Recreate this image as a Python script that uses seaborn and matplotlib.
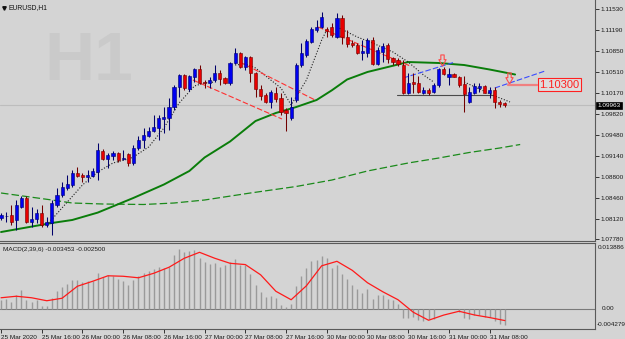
import numpy as np
import matplotlib
matplotlib.use("Agg")
import matplotlib.pyplot as plt
from matplotlib.path import Path
from matplotlib.transforms import blended_transform_factory
import seaborn as sns

# EURUSD H1 candles, 25 Mar 08:00 -> 31 Mar 11:00
opens = [
    1.08129, 1.08162, 1.08178, 1.08097, 1.08308, 1.08455, 1.08064, 1.08113, 1.08210, 1.08015,
    1.08048, 1.08341, 1.08503, 1.08617, 1.08666, 1.08861, 1.08829, 1.08796, 1.08812, 1.08878,
    1.09219, 1.09089, 1.09138, 1.09187, 1.09089, 1.09170, 1.09024, 1.09268, 1.09398, 1.09463,
    1.09545, 1.09593, 1.09740, 1.09756, 1.09935, 1.10260, 1.10456, 1.10228, 1.10423, 1.10553,
    1.10342, 1.10326, 1.10374, 1.10488, 1.10407, 1.10326, 1.10651, 1.10814, 1.10586, 1.10749,
    1.10488, 1.10228, 1.10130, 1.10017, 1.10163, 1.10082, 1.09886, 1.09756, 1.10049, 1.10618,
    1.10781, 1.10993, 1.11188, 1.11237, 1.11204, 1.11237, 1.11074, 1.11383, 1.11074, 1.10976,
    1.10944, 1.10814, 1.10814, 1.11025, 1.10635, 1.10830, 1.10944, 1.10732, 1.10700, 1.10618,
    1.10163, 1.10342, 1.10326, 1.10163, 1.10212, 1.10179, 1.10293, 1.10553, 1.10423, 1.10472,
    1.10423, 1.10309, 1.10017, 1.10163, 1.10244, 1.10277, 1.10163, 1.10212, 1.10017, 1.10000,
]
highs = [
    1.08210, 1.08227, 1.08341, 1.08422, 1.08487, 1.08487, 1.08308, 1.08276, 1.08341, 1.08145,
    1.08422, 1.08617, 1.08715, 1.08829, 1.08910, 1.08959, 1.08861, 1.08910, 1.08943, 1.09349,
    1.09252, 1.09187, 1.09219, 1.09203, 1.09236, 1.09187, 1.09317, 1.09463, 1.09593, 1.09610,
    1.09805, 1.09805, 1.09935, 1.10082, 1.10293, 1.10472, 1.10472, 1.10456, 1.10570, 1.10618,
    1.10374, 1.10423, 1.10618, 1.10537, 1.10423, 1.10667, 1.10895, 1.10830, 1.10765, 1.10765,
    1.10505, 1.10293, 1.10163, 1.10212, 1.10260, 1.10163, 1.09919, 1.10098, 1.10651, 1.10976,
    1.11041, 1.11237, 1.11351, 1.11481, 1.11237, 1.11302, 1.11464, 1.11432, 1.11188, 1.11025,
    1.10976, 1.11025, 1.11058, 1.11074, 1.10911, 1.10976, 1.10976, 1.10749, 1.10732, 1.10700,
    1.10488, 1.10488, 1.10439, 1.10260, 1.10244, 1.10326, 1.10570, 1.10586, 1.10570, 1.10488,
    1.10439, 1.10439, 1.10260, 1.10326, 1.10326, 1.10293, 1.10260, 1.10260, 1.10049, 1.10017,
]
lows = [
    1.08097, 1.08064, 1.08015, 1.07934, 1.08292, 1.08048, 1.07983, 1.08048, 1.07983, 1.07983,
    1.07853, 1.08308, 1.08471, 1.08585, 1.08633, 1.08796, 1.08715, 1.08715, 1.08796, 1.08747,
    1.09073, 1.08943, 1.09073, 1.09040, 1.09073, 1.08975, 1.08991, 1.09236, 1.09268, 1.09447,
    1.09528, 1.09398, 1.09512, 1.09561, 1.09886, 1.10098, 1.10212, 1.10195, 1.10342, 1.10309,
    1.10244, 1.10244, 1.10342, 1.10293, 1.10309, 1.10293, 1.10635, 1.10570, 1.10537, 1.10342,
    1.10098, 1.10049, 1.10000, 1.09919, 1.10017, 1.09805, 1.09545, 1.09724, 1.10017, 1.10586,
    1.10749, 1.10976, 1.11155, 1.11220, 1.11074, 1.11074, 1.11058, 1.10960, 1.10911, 1.10911,
    1.10797, 1.10700, 1.10749, 1.10618, 1.10618, 1.10667, 1.10651, 1.10618, 1.10602, 1.10147,
    1.10147, 1.10163, 1.10163, 1.10147, 1.10130, 1.10163, 1.10260, 1.10456, 1.10293, 1.10423,
    1.10260, 1.09854, 1.10000, 1.10147, 1.10179, 1.10163, 1.10082, 1.09919, 1.09935, 1.09935,
]
closes = [
    1.08178, 1.08162, 1.08064, 1.08341, 1.08455, 1.08064, 1.08113, 1.08210, 1.08015, 1.08064,
    1.08373, 1.08503, 1.08633, 1.08682, 1.08861, 1.08812, 1.08796, 1.08829, 1.08894, 1.09236,
    1.09089, 1.09154, 1.09187, 1.09073, 1.09105, 1.09024, 1.09268, 1.09398, 1.09480, 1.09545,
    1.09610, 1.09756, 1.09772, 1.09935, 1.10260, 1.10456, 1.10244, 1.10439, 1.10553, 1.10326,
    1.10326, 1.10374, 1.10488, 1.10391, 1.10326, 1.10651, 1.10814, 1.10586, 1.10749, 1.10488,
    1.10228, 1.10114, 1.10017, 1.10179, 1.10065, 1.09854, 1.09838, 1.09935, 1.10618, 1.10814,
    1.11009, 1.11204, 1.11237, 1.11399, 1.11172, 1.11107, 1.11383, 1.11074, 1.10960, 1.10944,
    1.10814, 1.10846, 1.11025, 1.10635, 1.10862, 1.10928, 1.10716, 1.10667, 1.10635, 1.10163,
    1.10326, 1.10309, 1.10179, 1.10212, 1.10163, 1.10293, 1.10553, 1.10472, 1.10472, 1.10423,
    1.10293, 1.10147, 1.10179, 1.10277, 1.10277, 1.10163, 1.10212, 1.10017, 1.09984, 1.09963,
]

# moving averages (sampled along the line, bar index -> price)
ma_idx = [0, 10, 14, 19, 26, 32, 37, 40, 45, 50, 54, 58, 62, 65, 68, 72, 76, 80, 86, 91, 96, 101]
ma_val = [1.07901, 1.08048, 1.08097, 1.08217, 1.08455, 1.08674, 1.08894, 1.09114, 1.09374, 1.09707,
          1.09838, 1.09935, 1.10049, 1.10207, 1.10383, 1.10505, 1.10586, 1.10667, 1.10651, 1.10618,
          1.10545, 1.10464]
slow_idx = [0, 10, 14, 20, 28, 34, 40, 49, 58, 65, 72, 80, 86, 92, 98, 102]
slow_val = [1.08536, 1.08422, 1.08373, 1.08357, 1.08349, 1.08373, 1.08422, 1.08536, 1.08642, 1.08747,
            1.08894, 1.09024, 1.09105, 1.09195, 1.09268, 1.09325]

# dotted trailing line (None = gap)
dot_idx = [9, 16, 19, 22, 25, 26, 29, 32, 35, 38, 40, 42, None,
           46, 48, 50, 53, 55, 57, 60, 63, 64, None,
           66, 70, 73, 77, 80, 83, 85, None,
           91, 94, 97, 100]
dot_val = [1.08015, 1.08666, 1.08878, 1.09024, 1.09089, 1.09122, 1.09284, 1.09593, 1.10000, 1.10277, 1.10326, 1.10342, None,
           1.10618, 1.10635, 1.10570, 1.10374, 1.10244, 1.09968, 1.10374, 1.11025, 1.11188, None,
           1.11237, 1.11074, 1.10976, 1.10830, 1.10667, 1.10456, 1.10342, None,
           1.10342, 1.10228, 1.10114, 1.10017]

# drawn objects
red_lines_idx = [(37.7, 55.2), (46.9, 61.7), (62.3, 80.4)]
red_lines_val = [(1.10374, 1.09740), (1.10667, 1.10049), (1.11237, 1.10602)]
blue_lines_idx = [(79.0, 89.2), (97.0, 106.9)]
blue_lines_val = [(1.10407, 1.10667), (1.10244, 1.10521)]
range_line = (77.8, 96.7, 1.10130)
arrow_idx = [86.6, 99.8]
arrow_val = [1.10700, 1.10400]
level_price = 1.10300
level_span = (99.6, 105.4)

# MACD(2,39,6)
macd_hist = [
    0.00179, 0.00215, 0.00143, 0.00300, 0.00390, 0.00179, 0.00143, 0.00179, 0.00059, 0.00053,
    0.00228, 0.00369, 0.00460, 0.00517, 0.00616, 0.00616, 0.00565, 0.00580, 0.00580, 0.00764,
    0.00671, 0.00722, 0.00692, 0.00622, 0.00580, 0.00496, 0.00616, 0.00692, 0.00764, 0.00791,
    0.00833, 0.00882, 0.00869, 0.00882, 0.01129, 0.01270, 0.01198, 0.01213, 0.01234, 0.01072,
    0.00987, 0.00939, 0.00975, 0.00882, 0.00918, 0.00987, 0.01044, 0.00918, 0.00918, 0.00743,
    0.00511, 0.00354, 0.00249, 0.00270, 0.00228, 0.00074, 0.00032, 0.00110, 0.00475, 0.00686,
    0.00861, 0.01009, 0.01038, 0.01114, 0.01066, 0.00861, 0.00933, 0.00743, 0.00637, 0.00511,
    0.00426, 0.00342, 0.00426, 0.00215, 0.00285, 0.00300, 0.00215, 0.00179, 0.00095, -0.00194,
    -0.00194, -0.00173, -0.00243, -0.00264, -0.00207, -0.00207, -0.00011, 0.00004, -0.00011, -0.00011,
    -0.00068, -0.00194, -0.00222, -0.00122, -0.00137, -0.00173, -0.00173, -0.00264, -0.00312, -0.00345,
]
sig_idx = [0, 3, 6, 9, 12, 15, 18, 21, 24, 27, 30, 33, 36, 39, 42, 45, 48, 51, 54, 57,
           60, 63, 66, 69, 72, 75, 78, 81, 84, 87, 90, 93, 96, 99]
sig_val = [0.00232, 0.00264, 0.00232, 0.00169, 0.00222, 0.00475, 0.00580, 0.00696, 0.00686, 0.00654,
           0.00749, 0.00876, 0.01066, 0.01192, 0.01066, 0.00960, 0.00933, 0.00717, 0.00369, 0.00190,
           0.00485, 0.00907, 0.01002, 0.00812, 0.00549, 0.00359, 0.00190, -0.00074, -0.00243, -0.00133,
           -0.00053, -0.00131, -0.00186, -0.00250]

price_ticks = [1.11530, 1.11190, 1.10850, 1.10510, 1.10170, 1.09820, 1.09480, 1.09140,
               1.08800, 1.08460, 1.08120, 1.07780]
time_idx = [0, 8, 16, 24, 32, 40, 48, 56, 64, 72, 80, 88, 96]
time_labels = ["25 Mar 2020", "25 Mar 16:00", "26 Mar 00:00", "26 Mar 08:00", "26 Mar 16:00",
               "27 Mar 00:00", "27 Mar 08:00", "27 Mar 16:00", "30 Mar 00:00", "30 Mar 08:00",
               "30 Mar 16:00", "31 Mar 00:00", "31 Mar 08:00"]

BG = "#d4d4d4"
sns.set_style("white", {"axes.facecolor": BG, "figure.facecolor": BG})
plt.rcParams["font.family"] = ["Liberation Sans", "DejaVu Sans"]
FS = 4.6

fig = plt.figure(figsize=(6.25, 3.39), dpi=100)
ax = fig.add_axes([0, 1 - 241 / 339, 595 / 625, 241 / 339])
axm = fig.add_axes([0, 1 - 329 / 339, 595 / 625, 86 / 339])
xlim = (-0.2, 116.7)

# watermark + title
ax.text(0.075, 0.668, "H1", transform=ax.transAxes, fontsize=50, fontweight="bold",
        color="#cacaca", ha="left", va="baseline", zorder=0)
ax.plot([0.006], [0.967], marker="v", ms=2.5, color="#101010", transform=ax.transAxes, clip_on=False)
ax.text(0.014, 0.967, "EURUSD,H1", transform=ax.transAxes, fontsize=FS + 0.3, color="#101010",
        va="center", ha="left")

# bid line
ax.axhline(closes[-1], color="#bdbdbd", lw=0.8, zorder=1)

# moving averages
sns.lineplot(x=slow_idx, y=slow_val, ax=ax, color="#1a8a1a", lw=0.9, linestyle=(0, (6, 2.5)),
             estimator=None, errorbar=None, zorder=2)
sns.lineplot(x=ma_idx, y=ma_val, ax=ax, color="#0a7d0a", lw=1.4, estimator=None, errorbar=None, zorder=2)

# dotted trailing line
ax.plot(np.array(dot_idx, dtype=float), np.array(dot_val, dtype=float), color="#202020",
        lw=0.8, linestyle=(0, (1, 1.6)), zorder=3)

# trend lines and objects
for xs, ys in zip(red_lines_idx, red_lines_val):
    ax.plot(xs, ys, color="#ff3030", lw=0.8, linestyle=(0, (5, 2)), zorder=3)
for xs, ys in zip(blue_lines_idx, blue_lines_val):
    ax.plot(xs, ys, color="#3a4cff", lw=0.8, linestyle=(0, (5, 2)), zorder=3)
ax.plot(range_line[:2], [range_line[2]] * 2, color="#4a4a4a", lw=0.8, zorder=3)

# candles
for i, (o, h, l, c) in enumerate(zip(opens, highs, lows, closes)):
    up = c >= o
    body = "#0000f0" if up else "#e80000"
    edge = "#00006a" if up else "#700000"
    ax.vlines(i, l, h, color=edge, lw=0.75, zorder=4)
    ax.bar(i, max(abs(c - o), 0.00003), bottom=min(o, c), width=0.62, color=body,
           edgecolor=edge, linewidth=0.4, zorder=5)

# hollow down arrows
arrow = Path([(-0.3, 1), (0.3, 1), (0.3, 0.15), (0.65, 0.15), (0, -1), (-0.65, 0.15),
              (-0.3, 0.15), (-0.3, 1)], closed=True)
ax.plot(arrow_idx, arrow_val, linestyle="none", marker=arrow, ms=8, mfc="none",
        mec="#ff4a4a", mew=0.8, zorder=6)

# price level with label
ax.plot(level_span, [level_price] * 2, color="#f08080", lw=1.6, zorder=6)
ax.text(level_span[1] + 0.4, level_price, f"{level_price:.5f}", color="#ff2020", fontsize=8,
        va="center", ha="left", zorder=7,
        bbox=dict(boxstyle="square,pad=0.12", fc="#dedede", ec="#ff2020", lw=0.8))

ax.set_xlim(*xlim)
ax.set_ylim(1.11676 - 241 * 0.0001627, 1.11676)
ax.yaxis.tick_right()
ax.set_yticks(price_ticks)
ax.set_yticklabels([f"{v:.5f}" for v in price_ticks])
ax.tick_params(axis="y", direction="out", length=3, width=0.6, labelsize=FS, pad=1,
               colors="#1a1a1a", right=True, left=False)
ax.tick_params(axis="x", bottom=False, labelbottom=False)
for s in ["top", "left"]:
    ax.spines[s].set_visible(False)
for s in ["right", "bottom"]:
    ax.spines[s].set_color("#5a5a5a")
    ax.spines[s].set_linewidth(0.8)
ax.set_xlabel("")
ax.set_ylabel("")

# current price box
tr = blended_transform_factory(ax.transAxes, ax.transData)
ax.text(1.004, closes[-1], f"{closes[-1]:.5f}", transform=tr, fontsize=FS, color="white",
        va="center", ha="left", zorder=8,
        bbox=dict(boxstyle="square,pad=0.18", fc="black", ec="black", lw=0.5))

# MACD panel
axm.vlines(range(len(macd_hist)), 0, macd_hist, color="#9a9a9a", lw=1.0, zorder=2)
axm.axhline(0, color="#7a7a7a", lw=0.8, zorder=1)
sns.lineplot(x=sig_idx, y=sig_val, ax=axm, color="#ff1a1a", lw=0.9, estimator=None,
             errorbar=None, zorder=3)
axm.set_xlim(*xlim)
axm.set_ylim(-0.004279, 0.013886)
axm.text(0.005, 0.93, "MACD(2,39,6) -0.003453 -0.002500", transform=axm.transAxes,
         fontsize=FS, color="#1a1a1a", va="center", ha="left")
axm.set_yticks([])
axm.text(1.005, 0.942, "0.013886", transform=axm.transAxes, fontsize=FS, color="#1a1a1a", va="center")
trm = blended_transform_factory(axm.transAxes, axm.transData)
axm.text(1.012, 0.0, "0.00", transform=trm, fontsize=FS, color="#1a1a1a", va="center")
axm.text(1.003, 0.058, "-0.004279", transform=axm.transAxes, fontsize=FS, color="#1a1a1a", va="center")
axm.set_xticks(time_idx)
axm.set_xticklabels(time_labels, ha="left")
axm.tick_params(axis="x", direction="out", length=3, width=0.6, labelsize=FS, pad=1,
                colors="#1a1a1a", bottom=True)
axm.spines["left"].set_visible(False)
for s in ["right", "bottom", "top"]:
    axm.spines[s].set_color("#5a5a5a")
    axm.spines[s].set_linewidth(0.8)
axm.set_xlabel("")
axm.set_ylabel("")

fig.savefig("out.png", dpi=100, facecolor=BG)
